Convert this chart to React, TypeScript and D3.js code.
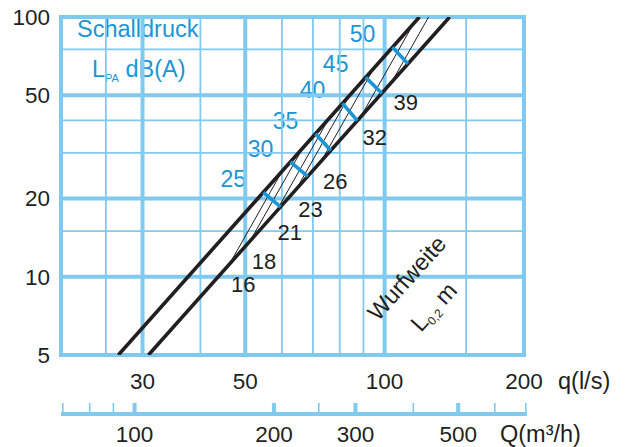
import React from 'react';
import * as d3 from 'd3';

// axis values
const qLabels = [30, 50, 100, 200];
const pLabels = [5, 10, 20, 50, 100];
const qGridMajor = [20, 30, 50, 100, 200];
const qGridMinor = [25, 40, 60, 70, 80, 90, 150];
const pGridMajor = [5, 10, 20, 50, 100];
const pGridMinor = [15, 30, 40, 75];
const QTicks = [70, 80, 90, 100, 200, 250, 300, 400, 500, 600, 700];
const QMajor = [100, 200, 300, 500];
const QLabels = [100, 200, 300, 500];

// thick band lines, [q, p] end points
const upperLine = [[26.6, 5], [118.9, 100]];
const lowerLine = [[30.9, 5], [138.2, 100]];

// Schalldruck ticks across the band
const soundLevels = [25, 30, 35, 40, 45, 50];
const soundQUpper = [54.7, 62.6, 70.9, 81.1, 91.0, 104];
const soundQLower = [59.6, 68.2, 76.5, 87.3, 98.6, 112.3];

// Wurfweite thin lines (start on lower line, end on upper line)
const throwLabels = [16, 18, 21, 23, 26, 32, 39];
const throwQStart = [46.2, 51.2, 58.2, 64.5, 73.0, 88.8, 103.6];
const throwQEnd = [60.1, 66.6, 75.7, 83.9, 94.9, 115.4, 134.7];

const GRID = '#80c9ef';
const BLUE = '#1b95d5';
const INK = '#231f20';
const FONT = '"Liberation Sans", Arial, sans-serif';

// p on a straight log-log line through two points
function pOn(line: number[][], q: number) {
  const [[q1, p1], [q2, p2]] = line;
  const k = Math.log(p2 / p1) / Math.log(q2 / q1);
  return p1 * Math.pow(q / q1, k);
}

export default function App() {
  const x = d3.scaleLog().domain([20, 200]).range([61, 524]);
  const y = d3.scaleLog().domain([5, 100]).range([355, 17]);
  const xQ = d3.scaleLog().domain([72, 720]).range([68.5, 531.5]);
  const line = d3.line<number[]>().x(d => x(d[0])).y(d => y(d[1]));

  return (
    <svg width={628} height={447} style={{ position: 'absolute', left: 0, top: 0 }} fontFamily={FONT}>
      <defs>
        <clipPath id="plot">
          <rect x={61} y={17} width={463} height={338} />
        </clipPath>
      </defs>

      {/* blue labels (under the grid) */}
      <g fill={BLUE}>
        <text x={77} y={37} fontSize={23.5}>Schalldruck</text>
        <text x={92} y={77} fontSize={23.5}>
          L<tspan fontSize={11} dy={5}>PA</tspan>
          <tspan dy={-5}> dB(A)</tspan>
        </text>
        {soundLevels.map((s, i) => (
          <text key={s} x={x(soundQUpper[i]) - 30} y={y(pOn(upperLine, soundQUpper[i])) - 13}
            fontSize={23} textAnchor="middle" dy="0.35em">{s}</text>
        ))}
      </g>

      {/* grid */}
      <g stroke={GRID} fill="none">
        {qGridMinor.map(v => (
          <line key={'qm' + v} x1={x(v)} x2={x(v)} y1={y(5)} y2={y(100)} strokeWidth={1.8} />
        ))}
        {pGridMinor.map(v => (
          <line key={'pm' + v} x1={x(20)} x2={x(200)} y1={y(v)} y2={y(v)} strokeWidth={1.8} />
        ))}
        {qGridMajor.map(v => (
          <line key={'qM' + v} x1={x(v)} x2={x(v)} y1={y(5) + 2} y2={y(100) - 2} strokeWidth={4} />
        ))}
        {pGridMajor.map(v => (
          <line key={'pM' + v} x1={x(20) - 2} x2={x(200) + 2} y1={y(v)} y2={y(v)} strokeWidth={4} />
        ))}
      </g>

      {/* black labels in plot */}
      <g fill={INK}>
        {throwLabels.map((l, i) => (
          <text key={l} x={x(throwQStart[i]) + 14} y={y(pOn(lowerLine, throwQStart[i])) + 20}
            fontSize={22} textAnchor="middle" dy="0.35em">{l}</text>
        ))}
        <text transform="translate(378,322) rotate(-48)" fontSize={23.5}>Wurfweite</text>
        <text transform="translate(421,333) rotate(-48)" fontSize={23.5}>
          L<tspan fontSize={12} dy={4}>0,2</tspan>
          <tspan dy={-4}> m</tspan>
        </text>
      </g>

      {/* band */}
      <g clipPath="url(#plot)" fill="none" stroke={INK}>
        {throwQStart.map((q, i) => (
          <path key={i} strokeWidth={1}
            d={line([[q, pOn(lowerLine, q)], [throwQEnd[i], pOn(upperLine, throwQEnd[i])]]) || ''} />
        ))}
        <path d={line(upperLine) || ''} strokeWidth={3.6} />
        <path d={line(lowerLine) || ''} strokeWidth={3.6} />
      </g>
      <g stroke={BLUE} strokeWidth={3.6}>
        {soundLevels.map((s, i) => (
          <line key={s} x1={x(soundQUpper[i])} y1={y(pOn(upperLine, soundQUpper[i]))}
            x2={x(soundQLower[i])} y2={y(pOn(lowerLine, soundQLower[i]))} />
        ))}
      </g>

      {/* axis labels */}
      <g fill={INK} fontSize={22.5}>
        {pLabels.map(v => (
          <text key={v} x={50} y={y(v)} dy="0.35em" textAnchor="end">{v}</text>
        ))}
        {qLabels.map(v => (
          <text key={v} x={x(v)} y={389} textAnchor="middle">{v}</text>
        ))}
        <text x={558} y={389} fontSize={23.5}>q(l/s)</text>
      </g>

      {/* Q axis (m3/h) */}
      <g stroke={GRID}>
        <line x1={61} x2={xQ(700) + 1} y1={414} y2={414} strokeWidth={4} />
        {QTicks.map(v => (
          <line key={v} x1={xQ(v)} x2={xQ(v)} y1={403} y2={414}
            strokeWidth={QMajor.includes(v) ? 4 : 1.6} />
        ))}
      </g>
      <g fill={INK} fontSize={22.5}>
        {QLabels.map(v => (
          <text key={v} x={xQ(v)} y={442} textAnchor="middle">{v}</text>
        ))}
        <text x={500} y={442} fontSize={23.5}>Q(m³/h)</text>
      </g>
    </svg>
  );
}
